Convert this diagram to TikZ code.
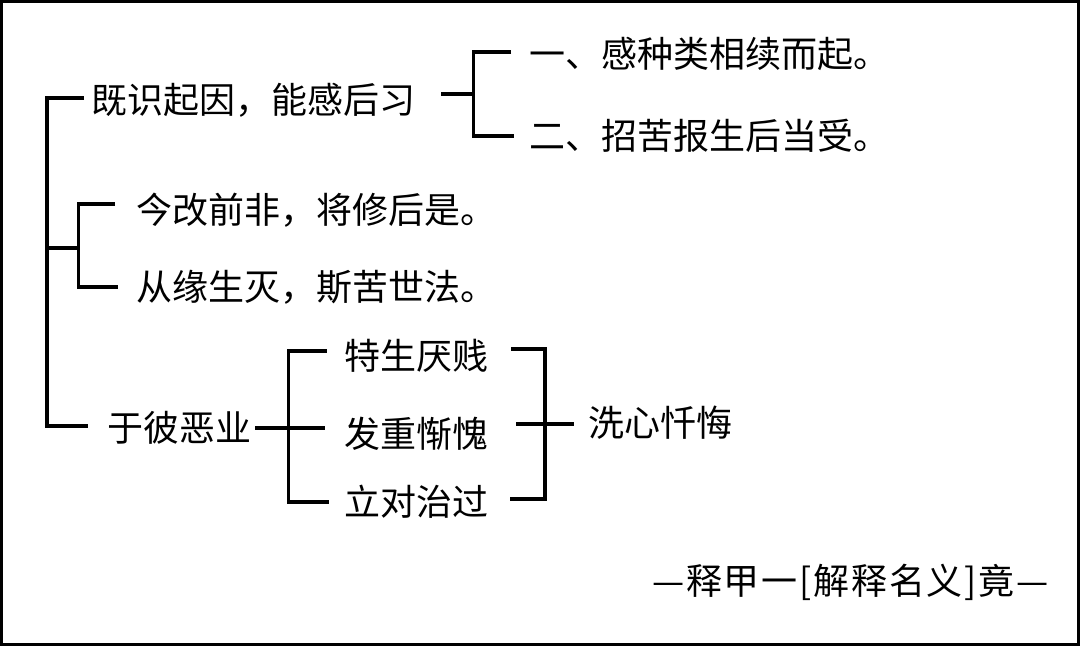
\documentclass[tikz,border=0pt]{standalone}
\usepackage{fontspec}
\newfontfamily\cjk{Noto Sans CJK SC}
\newfontfamily\cjkwide{Noto Sans CJK SC}[LetterSpace=5]
\usetikzlibrary{calc}
\begin{document}
\begin{tikzpicture}[x=1pt,y=-1pt,
  txt/.style={anchor=west,inner sep=0pt,font=\cjk\fontsize{36}{40}\selectfont},
  brk/.style={line width=3.6pt}]
\useasboundingbox (0,0) rectangle (1080,646);
\draw[line width=3pt] (1.5,1.5) rectangle (1078.5,644.5);
% texts
\node[txt](a)at(91,100){既识起因，能感后习};
\node[txt](a1)at(529,54){一、感种类相续而起。};
\node[txt](a2)at(529,136){二、招苦报生后当受。};
\node[txt](b1)at(136,210){今改前非，将修后是。};
\node[txt](b2)at(136,287){从缘生灭，斯苦世法。};
\node[txt](c)at(107,428){于彼恶业};
\node[txt](c1)at(344,356){特生厌贱};
\node[txt](c2)at(344,434){发重惭愧};
\node[txt](c3)at(344,502){立对治过};
\node[txt](d)at(588,423){洗心忏悔};
\node[txt,font=\cjkwide\fontsize{36}{40}\selectfont](e)at(652,582){—释甲一[解释名义]竟—};
% bracket spines
\coordinate(s0)at(47,248);
\coordinate(s1)at(78.5,248);
\coordinate(s2)at(473.5,94);
\coordinate(s3)at(288.5,428);
\coordinate(s4)at(545,424);
% brackets
\draw[brk]($(a.west)+(-7,-2)$)-|(s0)|-($(c.west)+(-19,-2)$);
\draw[brk](s0)--(s1);
\draw[brk]($(b1.west)+(-21,-6)$)-|(s1)|-($(b2.west)+(-18,0)$);
\draw[brk]($(a.east)+(26,-6)$)--(s2);
\draw[brk]($(a1.west)+(-18,-2)$)-|(s2)|-($(a2.west)+(-15,0)$);
\draw[brk]($(c.east)+(4,0)$)--($(c2.west|-s3)+(-19,0)$);
\draw[brk]($(c1.west)+(-17.5,-5)$)-|(s3)|-($(c3.west)+(-15,0)$);
\draw[brk]($(c1.east)+(23,-7)$)-|(s4)|-($(c3.east)+(22,-3)$);
\draw[brk]($(c2.east|-s4)+(28,0)$)--($(d.west)+(-14,1)$);
\end{tikzpicture}
\end{document}
